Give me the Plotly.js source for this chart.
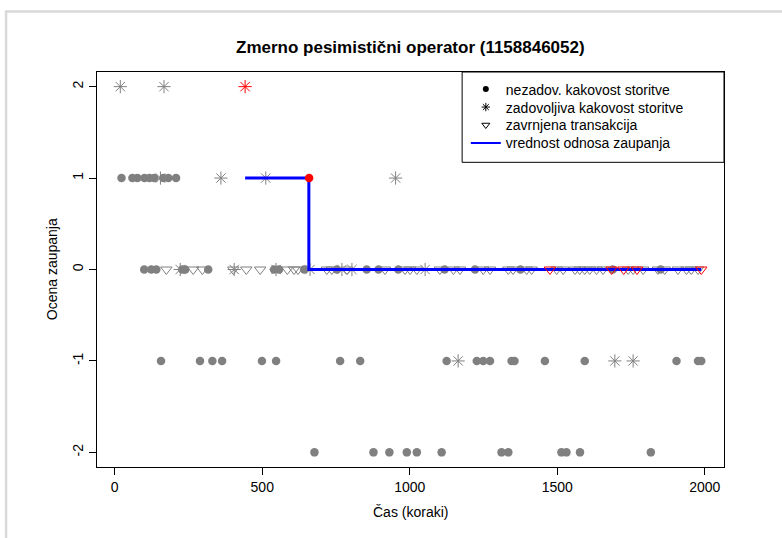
<!DOCTYPE html>
<html>
<head>
<meta charset="utf-8">
<script src="https://cdn.plot.ly/plotly-3.0.1.min.js"></script>
<style>html,body{margin:0;padding:0;background:#fff;}#chart{width:782px;height:538px;}</style>
</head>
<body>
<div id="chart"></div>
<script>
// ---- data (x = time step, grouped by score row) ----
const yRows = [2, 1, 0, -1, -2];
const xTicks = [0, 500, 1000, 1500, 2000];

// unsatisfactory quality (filled circles), gray
const circGrayRow1 = [23, 60, 77, 101, 118, 134, 165, 182, 208];
const circGrayRow0 = [100, 124, 141, 229, 239, 317, 540, 557, 642, 753, 854, 894, 961, 1118, 1221, 1375, 1688, 1850];
const circGrayRowM1 = [157, 289, 331, 364, 499, 547, 764, 832, 1125, 1227, 1249, 1272, 1345, 1355, 1458, 1593, 1904, 1977, 1988];
const circGrayRowM2 = [677, 877, 931, 990, 1024, 1108, 1311, 1334, 1514, 1531, 1577, 1817];
// satisfactory quality (asterisks), gray
const starGrayRow2 = [19, 167];
const starGrayRow1 = [155, 360, 512, 952];
const starGrayRow0 = [222, 405, 547, 662, 770, 804, 1052];
const starGrayRowM1 = [1164, 1695, 1757];
// rejected transactions (open down triangles), gray
const triGrayRow0 = [175, 266, 297, 402, 446, 493, 585, 608, 621, 719, 736, 787, 916, 984, 1001, 1024, 1102, 1148, 1170, 1249, 1272, 1334, 1350, 1396, 1413, 1498, 1520, 1560, 1576, 1593, 1610, 1633, 1655, 1740, 1757, 1791, 1841, 1864, 1909, 1938, 1954, 1977];
// highlighted (red)
const starRedRow2 = [442];
const circRedRow1 = [659];
const triRedRow0 = [1475, 1684, 1725, 1770, 1988];
// trust relation value (step line)
const trustX = [442, 658, 1988];
const trustY = [1, 0, 0];

const legendNames = ['nezadov. kakovost storitve', 'zadovoljiva kakovost storitve', 'zavrnjena transakcija', 'vrednost odnosa zaupanja'];

const GRAY = '#808080', RED = '#ff0000', BLUE = '#0000ff';

function pts(xs, yv, symbol, color, size) {
  const open = symbol.indexOf('open') >= 0;
  return {
    type: 'scatter', mode: 'markers', x: xs, y: xs.map(() => yv),
    showlegend: false, hoverinfo: 'skip', cliponaxis: false,
    marker: { symbol: symbol, size: size, color: color,
      line: { color: color, width: open ? 1 : 0 } }
  };
}
const C = 8.5, S = 11, T = 10;
const traces = [
  pts(circGrayRow1, yRows[1], 'circle', GRAY, C),
  pts(circGrayRow0, yRows[2], 'circle', GRAY, C),
  pts(circGrayRowM1, yRows[3], 'circle', GRAY, C),
  pts(circGrayRowM2, yRows[4], 'circle', GRAY, C),
  pts(starGrayRow2, yRows[0], 'asterisk-open', GRAY, S),
  pts(starGrayRow1, yRows[1], 'asterisk-open', GRAY, S),
  pts(starGrayRow0, yRows[2], 'asterisk-open', GRAY, S),
  pts(starGrayRowM1, yRows[3], 'asterisk-open', GRAY, S),
  pts(triGrayRow0, yRows[2], 'triangle-down-open', GRAY, T),
  { type: 'scatter', mode: 'lines', x: trustX, y: trustY, line: { shape: 'hv', color: BLUE, width: 3 },
    showlegend: false, hoverinfo: 'skip' },
  pts(starRedRow2, yRows[0], 'asterisk-open', RED, S),
  pts(circRedRow1, yRows[1], 'circle', RED, C),
  pts(triRedRow0, yRows[2], 'triangle-down-open', RED, T),
  // legend entries (one legend per row for exact spacing)
  { type: 'scatter', mode: 'markers', x: [null], y: [null], name: legendNames[0], legend: 'legend',
    marker: { symbol: 'circle', size: 6, color: '#000' } },
  { type: 'scatter', mode: 'markers', x: [null], y: [null], name: legendNames[1], legend: 'legend2',
    marker: { symbol: 'asterisk-open', size: 7, color: '#000', line: { color: '#000', width: 1 } } },
  { type: 'scatter', mode: 'markers', x: [null], y: [null], name: legendNames[2], legend: 'legend3',
    marker: { symbol: 'triangle-down-open', size: 7, color: '#000', line: { color: '#000', width: 1 } } },
  { type: 'scatter', mode: 'lines', x: [null], y: [null], name: legendNames[3], legend: 'legend4',
    line: { color: BLUE, width: 2 } }
];

const FONT = 'Liberation Sans, Arial, Helvetica, sans-serif';
const W = 782, H = 538, L = 97, R = 724.3, TOP = 71.5, BOT = 467.3;
const pw = R - L, ph = BOT - TOP;
const px2x = p => (p - L) / pw;
const py2y = p => 1 - (p - TOP) / ph;

function leg(rowIdx) {
  return {
    x: px2x(466), y: py2y(73 + 18 * rowIdx), xanchor: 'left', yanchor: 'top',
    bgcolor: 'rgba(0,0,0,0)', borderwidth: 0,
    font: { family: FONT, size: 14, color: '#000' }, itemwidth: 30
  };
}

const layout = {
  width: W, height: H,
  margin: { l: L, r: W - R, t: TOP, b: H - BOT, pad: 0 },
  paper_bgcolor: '#fff', plot_bgcolor: '#fff',
  font: { family: FONT, size: 14, color: '#000' },
  showlegend: true,
  legend: leg(0), legend2: leg(1), legend3: leg(2), legend4: leg(3),
  xaxis: {
    range: [-60, 2065], tickvals: xTicks, ticktext: xTicks.map(String),
    showgrid: false, zeroline: false, showline: true, mirror: true,
    linecolor: '#000', linewidth: 1, ticks: 'outside', ticklen: 7, tickwidth: 1, tickcolor: '#000',
    tickfont: { family: FONT, size: 14, color: '#000' }, fixedrange: true
  },
  yaxis: {
    range: [-2.16, 2.16], tickvals: yRows, ticktext: yRows.map(String),
    showgrid: false, zeroline: false, showline: true, mirror: true,
    linecolor: '#000', linewidth: 1, ticks: 'outside', ticklen: 7, tickwidth: 1, tickcolor: '#000',
    tickangle: -90,
    tickfont: { family: FONT, size: 14, color: '#000' }, fixedrange: true
  },
  shapes: [
    { type: 'rect', xref: 'paper', yref: 'paper', x0: px2x(462.3), x1: 1, y0: py2y(162), y1: 1,
      line: { color: '#000', width: 1 }, fillcolor: 'rgba(0,0,0,0)', layer: 'above' },
    { type: 'rect', xref: 'paper', yref: 'paper', x0: px2x(6), x1: px2x(800), y0: py2y(560), y1: py2y(11),
      line: { color: '#d9d9d9', width: 2.5 }, fillcolor: 'rgba(0,0,0,0)', layer: 'below' }
  ],
  annotations: [
    { text: '<b>Zmerno pesimistični operator (1158846052)</b>', xref: 'paper', yref: 'paper',
      x: 0.5, y: py2y(46.7), xanchor: 'center', yanchor: 'middle', showarrow: false,
      font: { family: FONT, size: 17, color: '#000' } },
    { text: 'Čas (koraki)', xref: 'paper', yref: 'paper', x: 0.5, y: py2y(512.7),
      xanchor: 'center', yanchor: 'middle', showarrow: false, font: { family: FONT, size: 14, color: '#000' } },
    { text: 'Ocena zaupanja', xref: 'paper', yref: 'paper', x: px2x(51.7), y: 0.5, textangle: -90,
      xanchor: 'center', yanchor: 'middle', showarrow: false, font: { family: FONT, size: 14, color: '#000' } }
  ]
};

Plotly.newPlot('chart', traces, layout, { displayModeBar: false, staticPlot: true });
</script>
</body>
</html>
